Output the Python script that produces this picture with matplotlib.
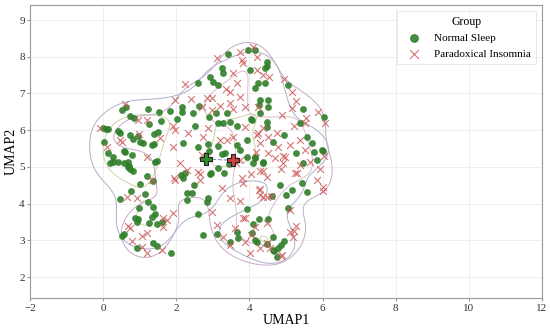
import numpy as np
import matplotlib
matplotlib.use("Agg")
import matplotlib.pyplot as plt

plt.rcParams['font.family'] = ['Liberation Serif', 'DejaVu Serif']

# Coordenadas UMAP
normal_pts = [
    (3.42, 8.07), (3.96, 8.18), (4.15, 8.18), (4.48, 7.86), (4.48, 7.75), (4.02, 7.64), (4.43, 7.69),
    (3.25, 7.69), (3.28, 7.56), (2.60, 7.28), (2.92, 7.45), (3.00, 7.31), (3.14, 7.23), (4.24, 7.28),
    (4.43, 7.28), (4.15, 7.15), (4.50, 6.82), (4.50, 6.63), (4.29, 6.47), (4.26, 6.68), (4.29, 6.82),
    (4.07, 6.27), (4.48, 6.22), (4.48, 6.08),
    (5.05, 7.23), (5.46, 6.57), (6.04, 6.36), (5.38, 6.19), (4.95, 5.87), (5.57, 5.81), (5.71, 5.65),
    (5.27, 5.38), (5.77, 5.40), (5.98, 5.46), (5.85, 5.19), (5.46, 5.10), (4.64, 5.68), (6.01, 5.43),
    (4.15, 5.24), (4.37, 5.13),
    (4.84, 4.50), (5.16, 4.37), (5.44, 4.56), (5.57, 4.31), (5.00, 4.23), (4.62, 4.20), (5.05, 3.88),
    (4.95, 2.98), (4.86, 2.87), (4.78, 2.79), (4.76, 2.54), (4.67, 2.71),
    (4.26, 3.58), (4.50, 3.58), (4.10, 3.44), (4.07, 3.20), (4.64, 3.09), (4.15, 3.00), (4.20, 2.95),
    (4.48, 2.90), (4.64, 2.73), (3.93, 3.85), (3.69, 3.06), (3.66, 3.22), (3.47, 2.95), (3.11, 3.17),
    (2.73, 3.14), (2.60, 3.71), (2.87, 4.15), (2.84, 4.04), (2.29, 4.10), (2.29, 4.29), (2.43, 4.29),
    (2.48, 4.50), (2.18, 4.69), (2.24, 4.83), (2.13, 4.78), (3.14, 4.97), (2.92, 4.80), (2.95, 4.83),
    (3.30, 4.83), (3.44, 5.08),
    (0.46, 4.12), (0.76, 4.34), (1.00, 4.53), (1.20, 4.75), (1.14, 4.26), (1.23, 4.04), (1.36, 3.90),
    (0.98, 3.88), (1.42, 3.71), (1.34, 3.63), (1.47, 3.44), (0.87, 3.60), (0.95, 3.57), (0.93, 3.49),
    (1.25, 3.47), (1.61, 3.49), (0.52, 3.11), (0.57, 3.17), (1.36, 2.92), (1.47, 2.84), (0.93, 2.79),
    (1.86, 2.65), (1.36, 4.61),
    (0.68, 4.99), (0.82, 4.89), (0.73, 4.94), (0.13, 5.38), (0.27, 5.13), (0.41, 5.13), (0.57, 5.43),
    (0.57, 5.10), (0.71, 5.02), (0.19, 5.10), (0.60, 5.40), (0.79, 5.32), (0.27, 5.27), (1.42, 5.13),
    (1.47, 5.16), (0.68, 5.13), (1.09, 5.65), (1.34, 5.59), (1.01, 5.68), (0.03, 5.68),
    (0.52, 6.55), (0.63, 6.63), (0.73, 6.38), (0.84, 6.33), (1.23, 6.57), (1.53, 6.49), (1.83, 6.52),
    (2.16, 6.63), (2.02, 6.30), (2.16, 6.49), (2.46, 6.47), (0.00, 6.06), (0.08, 6.03), (0.13, 6.03),
    (0.41, 5.98), (0.46, 5.92), (0.73, 5.87), (0.82, 5.76), (0.95, 5.84), (1.39, 5.89), (1.25, 6.17),
    (1.58, 6.25), (1.50, 5.95), (1.39, 5.62),
    (2.18, 5.65), (2.51, 6.11), (2.62, 6.66), (2.90, 6.36), (3.09, 6.47), (3.39, 6.47), (3.14, 6.19),
    (3.28, 6.19), (3.47, 6.22), (3.66, 6.11), (4.04, 6.30), (3.93, 5.73), (3.66, 5.59), (2.87, 5.62),
    (3.14, 5.57), (3.74, 5.46), (3.93, 5.27), (4.15, 5.27), (4.37, 5.10), (2.60, 5.54), (3.25, 5.35),
    (2.90, 5.43), (4.10, 5.10), (3.33, 5.38),
]

insomnia_pts = [
    (0.60, 6.71), (0.95, 6.27), (-0.09, 6.06), (0.46, 5.73), (1.20, 6.27), (0.98, 5.89), (0.52, 5.68),
    (0.10, 5.54), (1.96, 6.82), (2.24, 7.26), (2.40, 6.85), (2.70, 6.63), (2.84, 6.87), (2.98, 6.87),
    (3.11, 7.96), (3.74, 8.13), (3.66, 7.28), (3.36, 7.12), (3.47, 7.04), (3.55, 7.56), (3.80, 7.91),
    (3.82, 7.83), (4.10, 8.26), (4.20, 7.99), (4.37, 7.50), (4.53, 7.45), (4.20, 7.64), (3.74, 6.90),
    (3.88, 6.63), (4.24, 6.63), (2.98, 6.55), (3.20, 6.66), (3.47, 6.74), (3.55, 6.57), (4.24, 5.92),
    (4.37, 6.06), (4.20, 5.87), (4.50, 5.81), (3.39, 5.73), (3.20, 5.73), (3.55, 5.81), (2.87, 6.06),
    (1.91, 6.11), (2.32, 5.92), (2.73, 5.81), (1.91, 5.54), (1.56, 5.79), (1.20, 5.27), (2.70, 5.32),
    (3.74, 5.19),
    (4.95, 7.39), (5.16, 7.04), (5.27, 6.79), (5.16, 6.60), (4.89, 6.41), (5.88, 6.49), (5.55, 6.33),
    (6.07, 6.19), (5.22, 6.11), (5.52, 6.19), (4.76, 5.92), (5.11, 5.59), (5.38, 5.73), (5.52, 5.46),
    (6.04, 5.29), (4.97, 5.27), (5.66, 5.13), (4.78, 5.54), (5.93, 4.94), (5.85, 4.64), (6.01, 4.45),
    (6.01, 4.34), (4.86, 4.94), (5.25, 4.83), (5.11, 3.82), (5.27, 3.39), (5.11, 3.22), (5.19, 3.09),
    (4.89, 2.60), (5.22, 3.25),
    (4.70, 5.24), (4.92, 5.29), (4.92, 5.10), (5.38, 5.05), (5.30, 4.83), (4.37, 4.89),
    (1.96, 6.00), (3.88, 6.08), (4.29, 5.65), (4.18, 5.40), (4.50, 5.38), (3.63, 5.10), (3.25, 4.42),
    (3.47, 4.15), (2.29, 4.91), (2.60, 4.86), (2.65, 4.64), (2.10, 5.10), (1.96, 4.64), (3.82, 4.56),
    (4.37, 4.18),
    (0.65, 4.18), (0.93, 4.15), (0.73, 3.33), (0.79, 2.98), (1.06, 3.11), (1.20, 3.20), (1.20, 2.65),
    (1.06, 2.81), (1.61, 2.73), (1.34, 4.64), (1.64, 3.60), (1.75, 3.55), (1.64, 3.36), (1.91, 3.74),
    (1.94, 4.69), (2.65, 4.80), (2.98, 3.77), (3.11, 3.41), (3.28, 3.09), (3.47, 2.87), (3.61, 3.33),
    (3.74, 4.07), (3.82, 3.60), (3.88, 3.60), (3.88, 2.95), (4.02, 2.65), (4.04, 3.14), (4.15, 3.36),
    (4.29, 2.79), (4.48, 3.47), (4.26, 4.37), (4.29, 4.23), (4.48, 4.18), (4.29, 4.89), (4.48, 4.72),
    (4.04, 4.80), (3.80, 4.69), (4.29, 4.40), (4.59, 4.20), (4.48, 2.92), (4.56, 2.79), (4.86, 2.57),
    (0.68, 3.38),
]

x_ticks = [-2, 0, 2, 4, 6, 8, 10, 12]
y_ticks = [2, 3, 4, 5, 6, 7, 8, 9]

normal = np.array(normal_pts)
insomnia = np.array(insomnia_pts)


def kde_grid(pts, gx, gy, fator=0.75):
    # KDE gaussiana simples (largura de Scott reduzida)
    n = len(pts)
    bw = n ** (-1.0 / 6) * fator
    cov = np.cov(pts.T) * bw ** 2
    inv = np.linalg.inv(cov)
    xx, yy = np.meshgrid(gx, gy)
    d = np.stack([xx.ravel(), yy.ravel()], axis=1)
    z = np.zeros(len(d))
    for p in pts:
        diff = d - p
        z += np.exp(-0.5 * np.einsum('ij,jk,ik->i', diff, inv, diff))
    z /= z.max()
    return xx, yy, z.reshape(xx.shape)


fig, ax = plt.subplots(figsize=(5.5, 3.3), dpi=100)
fig.subplots_adjust(left=0.055, right=0.985, bottom=0.097, top=0.985)

gx = np.linspace(-1.5, 7.5, 220)
gy = np.linspace(1.5, 9.3, 220)
xx, yy, zn = kde_grid(normal, gx, gy)
ax.contour(xx, yy, zn, levels=[0.3, 0.6], colors=['#aeb1c8', '#cfd3a8'], linewidths=0.7, zorder=1)
xx, yy, zi = kde_grid(insomnia, gx, gy)
ax.contour(xx, yy, zi, levels=[0.3, 0.6], colors=['#c7aac9', '#dbbccb'], linewidths=0.7, zorder=1)

ax.scatter(normal[:, 0], normal[:, 1], s=24, color='#2f7f2a', alpha=0.9,
           linewidths=0, label='Normal Sleep', zorder=3)
ax.scatter(insomnia[:, 0], insomnia[:, 1], s=24, marker='x', color='#cd5c5c',
           linewidths=0.8, alpha=0.85, label='Paradoxical Insomnia', zorder=3)

# Centroides
cn = normal.mean(axis=0)
ci = insomnia.mean(axis=0)
ax.plot([cn[0], ci[0]], [cn[1], ci[1]], ls='--', color='#8896c8', lw=0.8, zorder=4)
ax.scatter([cn[0]], [cn[1]], marker='P', s=70, color='#2e8b2e', edgecolors='#222222',
           linewidths=0.8, zorder=5)
ax.scatter([ci[0]], [ci[1]], marker='P', s=70, color='#d04040', edgecolors='#222222',
           linewidths=0.8, zorder=5)

ax.set_xlim(-2, 12)
ax.set_ylim(1.43, 9.41)
ax.set_xticks(x_ticks)
ax.set_yticks(y_ticks)
ax.set_xticklabels([str(t).replace('-', '\u2212') for t in x_ticks])
ax.tick_params(labelsize=8, colors='#333333', length=2, color='#999999', pad=2)
ax.set_xlabel('UMAP1', fontsize=10, labelpad=1)
ax.set_ylabel('UMAP2', fontsize=10, labelpad=1)
ax.grid(True, color='#ebebeb', lw=0.6)
ax.set_axisbelow(True)
for s in ax.spines.values():
    s.set_color('#999999')

leg = ax.legend(title='Group', loc='upper right', fontsize=8, title_fontsize=8.5,
                frameon=True, fancybox=False, edgecolor='#dddddd', borderpad=0.5,
                markerscale=1.3)
leg.get_frame().set_linewidth(0.6)

fig.savefig('out.png', dpi=100)
